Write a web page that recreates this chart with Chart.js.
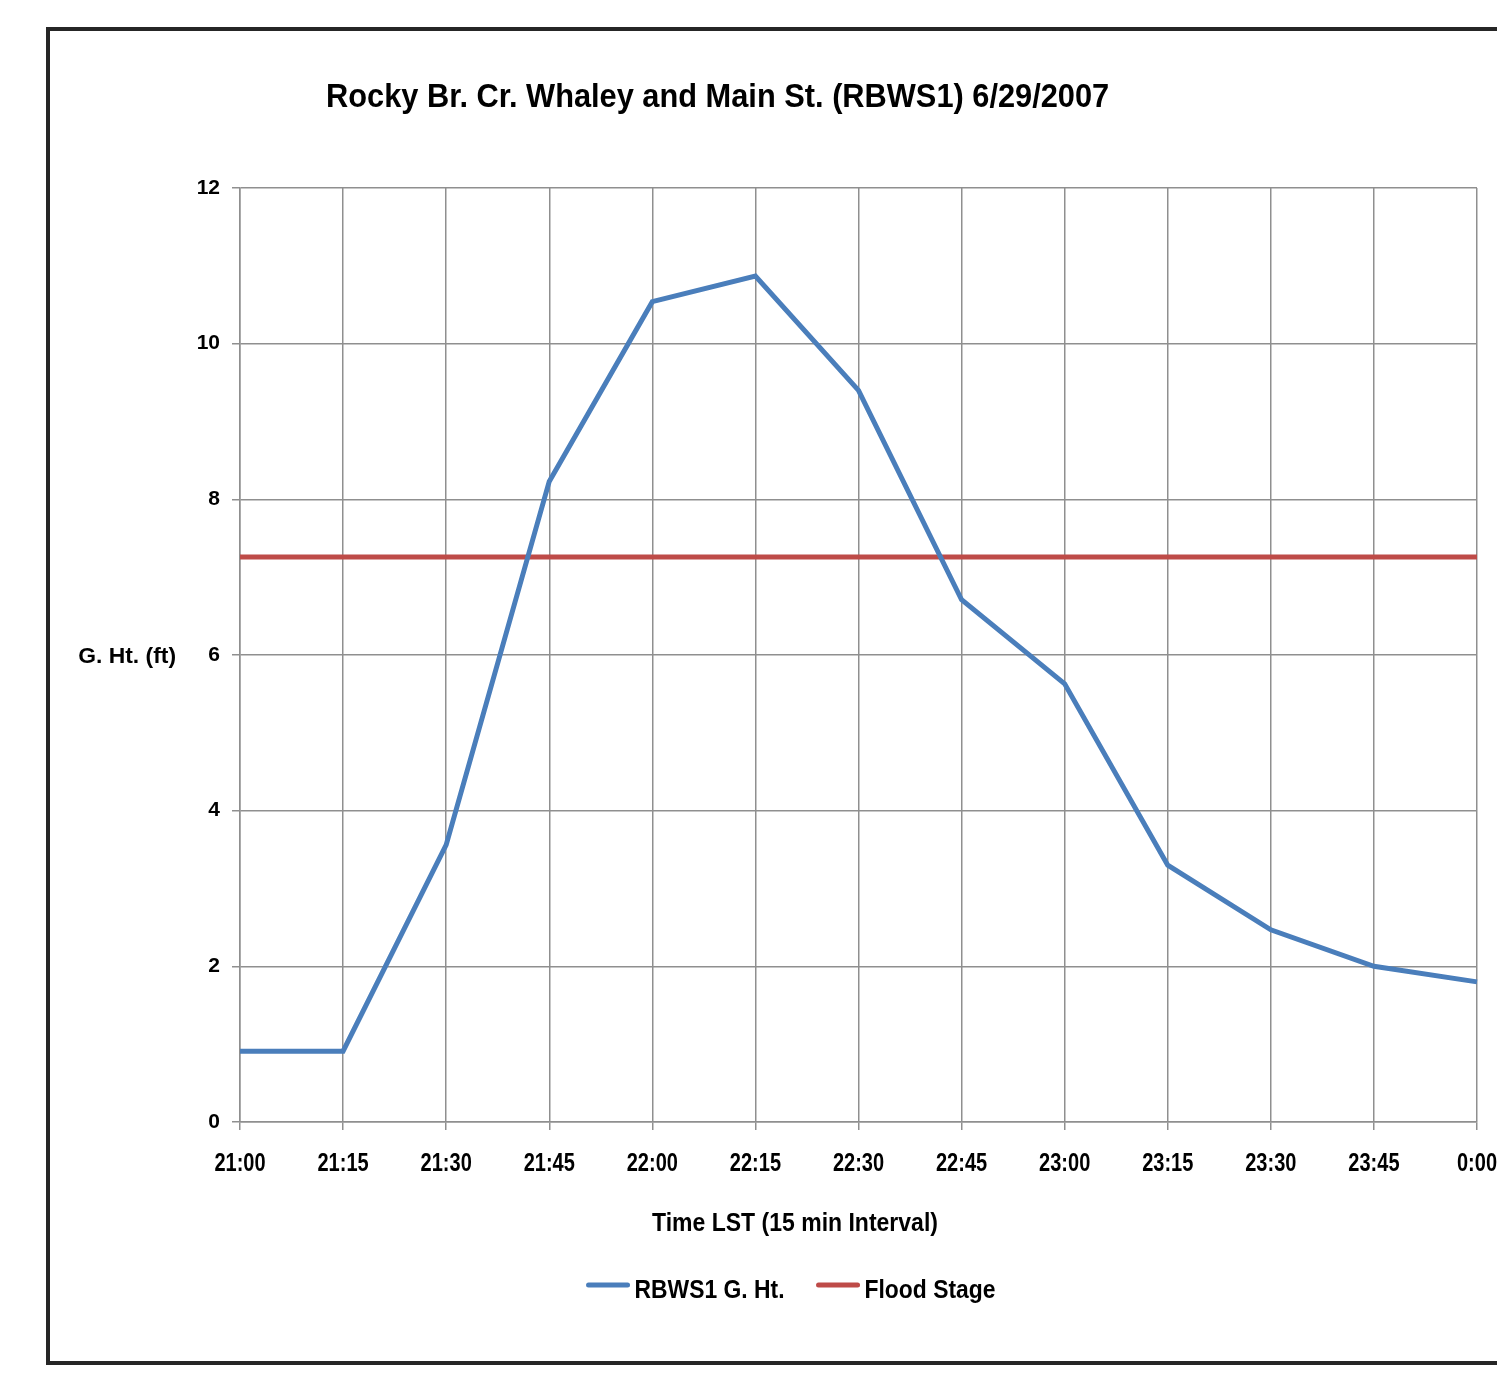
<!DOCTYPE html>
<html>
<head>
<meta charset="utf-8">
<script src="https://cdn.jsdelivr.net/npm/chart.js@4.4.1/dist/chart.umd.min.js"></script>
<style>
  html, body { margin: 0; padding: 0; background: #fff; overflow: hidden; width: 1497px; height: 1377px; }
  #frame { position: absolute; left: 46px; top: 27px; width: 1560px; height: 1330px; border: 4px solid #262626; background:#fff; }
  #wrap { position: absolute; left: 0px; top: 0px; width: 1490px; height: 1330px; }
</style>
</head>
<body>
<div id="frame"><div id="wrap"><canvas id="c" width="1490" height="1330"></canvas></div></div>
<script>
const chartTitle = 'Rocky Br. Cr. Whaley and Main St. (RBWS1) 6/29/2007';
const xAxisTitle = 'Time LST (15 min Interval)';
const yAxisTitle = 'G. Ht. (ft)';
const categories = ['21:00','21:15','21:30','21:45','22:00','22:15','22:30','22:45','23:00','23:15','23:30','23:45','0:00'];
const gageHeight = [0.91, 0.91, 3.56, 8.23, 10.54, 10.87, 9.40, 6.71, 5.63, 3.30, 2.47, 2.00, 1.80];
const floodStage = [7.26, 7.26, 7.26, 7.26, 7.26, 7.26, 7.26, 7.26, 7.26, 7.26, 7.26, 7.26, 7.26];
const seriesNames = ['RBWS1 G. Ht.', 'Flood Stage'];
const yTicks = { min: 0, max: 12, step: 2 };

const FONT = "'Liberation Sans', Arial, sans-serif";
const GRID = '#8f8f8f';

function drawText(ctx, str, x, y, size, sx, align) {
  ctx.save();
  ctx.font = 'bold ' + size + 'px ' + FONT;
  ctx.fillStyle = '#000';
  ctx.textBaseline = 'alphabetic';
  ctx.textAlign = align;
  ctx.translate(x, y);
  ctx.scale(sx, 1);
  ctx.fillText(str, 0, 0);
  ctx.restore();
}

const textPlugin = {
  id: 'texts',
  afterDraw(chart) {
    const ctx = chart.ctx;
    // chart title
    drawText(ctx, chartTitle, 276, 76, 34, 0.905, 'left');
    // axis titles
    drawText(ctx, xAxisTitle, 745, 1200, 25, 0.92, 'center');
    drawText(ctx, yAxisTitle, 126, 632, 22, 1.04, 'right');
    // x tick labels, placed by the category scale
    const xs = chart.scales.x;
    xs.ticks.forEach((t, i) => {
      drawText(ctx, xs.getLabelForValue(t.value), xs.getPixelForTick(i), 1140, 26, 0.77, 'center');
    });
    // legend
    const size = 26, sx = 0.88, lineLen = 43, gapText = 5, gapItem = 32;
    ctx.save();
    ctx.font = 'bold ' + size + 'px ' + FONT;
    const items = chart.data.datasets.map(d => ({ d, w: ctx.measureText(d.label).width * sx }));
    ctx.restore();
    const total = items.reduce((a, it) => a + lineLen + gapText + it.w, 0) + gapItem * (items.length - 1);
    let x = 741 - total / 2;
    const ly = 1254;
    items.forEach(it => {
      ctx.save();
      ctx.strokeStyle = it.d.borderColor;
      ctx.lineWidth = 5;
      ctx.lineCap = 'round';
      ctx.beginPath();
      ctx.moveTo(x + 2, ly);
      ctx.lineTo(x + lineLen - 2, ly);
      ctx.stroke();
      ctx.restore();
      drawText(ctx, it.d.label, x + lineLen + gapText, 1267, size, sx, 'left');
      x += lineLen + gapText + it.w + gapItem;
    });
  }
};

new Chart(document.getElementById('c'), {
  type: 'line',
  data: {
    labels: categories,
    datasets: [
      { label: seriesNames[0], data: gageHeight, borderColor: '#4a7ebb', backgroundColor: '#4a7ebb', borderWidth: 5, pointRadius: 0, tension: 0 },
      { label: seriesNames[1], data: floodStage, borderColor: '#be4b48', backgroundColor: '#be4b48', borderWidth: 5, pointRadius: 0, tension: 0 }
    ]
  },
  options: {
    responsive: false,
    animation: false,
    layout: { padding: { left: 0, top: 157, right: 63, bottom: 100 } },
    plugins: {
      title: { display: false },
      tooltip: { enabled: false },
      legend: { display: false }
    },
    scales: {
      x: {
        offset: false,
        grid: { color: GRID, lineWidth: 1.5, tickLength: 8, drawTicks: true },
        border: { color: GRID, width: 1.5 },
        ticks: { display: false, autoSkip: false, maxRotation: 0 },
        afterFit(s) { s.height = 139; }
      },
      y: {
        min: yTicks.min, max: yTicks.max,
        grid: { color: GRID, lineWidth: 1.5, tickLength: 8 },
        border: { color: GRID, width: 1.5 },
        ticks: { stepSize: yTicks.step, font: { family: FONT, size: 21, weight: 'bold' }, color: '#000', padding: 12 },
        afterFit(s) { s.width = 190; }
      }
    }
  },
  plugins: [textPlugin]
});
</script>
</body>
</html>
